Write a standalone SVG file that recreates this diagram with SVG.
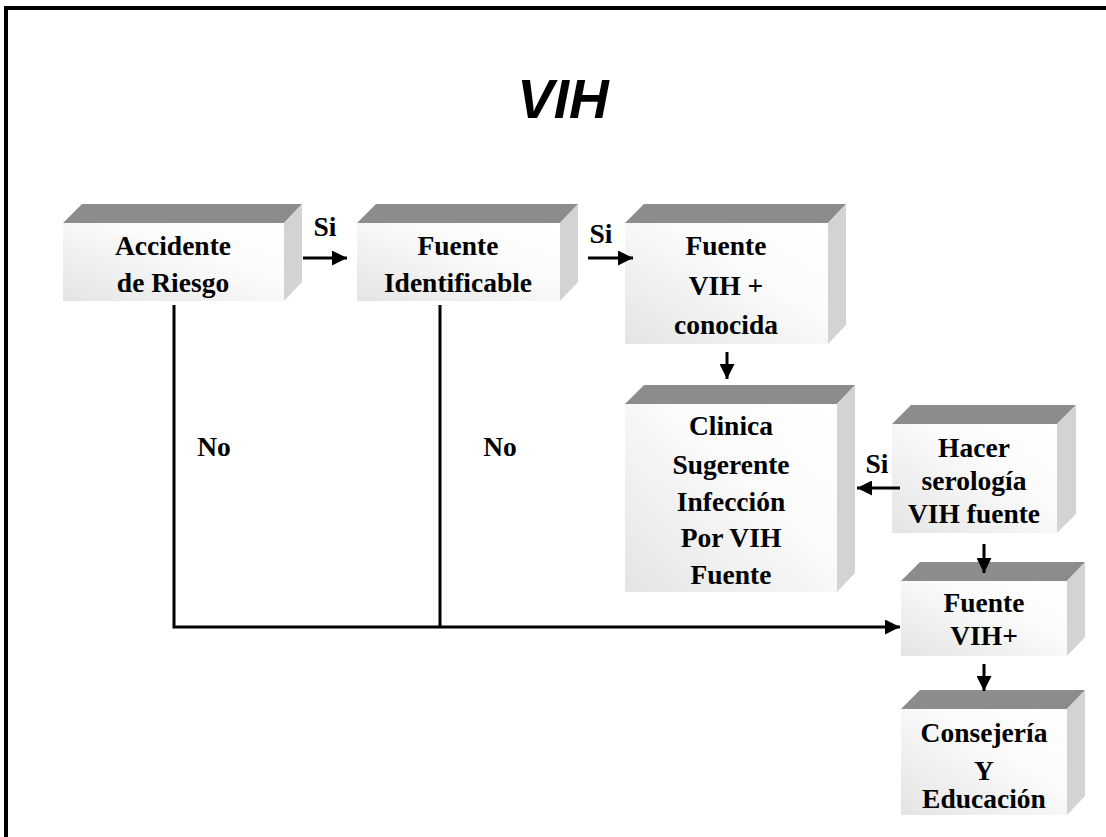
<svg xmlns="http://www.w3.org/2000/svg" width="1106" height="837" viewBox="0 0 1106 837">
  <defs>
    <linearGradient id="face" x1="0" y1="1" x2="1" y2="0">
      <stop offset="0" stop-color="#e4e4e4"/>
      <stop offset="0.6" stop-color="#fbfbfb"/>
      <stop offset="1" stop-color="#ffffff"/>
    </linearGradient>
    <marker id="arrow" viewBox="0 0 10 10" refX="10" refY="5" markerWidth="5" markerHeight="5" orient="auto" markerUnits="strokeWidth">
      <path d="M0,0 L10,5 L0,10 Z" fill="#000"/>
    </marker>
  </defs>
  <style>
    .top { fill: #8c8c8c; }
    .side { fill: #d3d3d3; }
    .front { fill: url(#face); }
    .lbl { font-family: "Liberation Serif", "Times New Roman", serif; font-weight: bold; font-size: 27.5px; fill: #000; text-anchor: middle; }
    .edge { stroke: #000; stroke-width: 3; fill: none; }
    .frame { stroke: #000; stroke-width: 4; fill: none; }
  </style>

  <rect width="1106" height="837" fill="#fff"/>

  <!-- page frame (top and left rules) -->
  <path class="frame" d="M6,837 V8 H1106"/>

  <!-- title -->
  <text x="563" y="118" font-family="Liberation Sans, Arial, sans-serif" font-weight="bold" font-style="italic" font-size="55" text-anchor="middle">VIH</text>

  <!-- Accidente de Riesgo -->
  <g id="accidente">
    <polygon class="top" points="63,223 82,204 302,204 284,223"/>
    <polygon class="side" points="284,223 302,204 302,282 284,301"/>
    <rect class="front" x="63" y="223" width="221" height="78"/>
    <text class="lbl" x="173" y="255">Accidente</text>
    <text class="lbl" x="173" y="292">de Riesgo</text>
  </g>

  <!-- Fuente Identificable -->
  <g id="identificable">
    <polygon class="top" points="357,223 376,204 578,204 560,223"/>
    <polygon class="side" points="560,223 578,204 578,282 560,301"/>
    <rect class="front" x="357" y="223" width="203" height="78"/>
    <text class="lbl" x="458" y="255">Fuente</text>
    <text class="lbl" x="458" y="292">Identificable</text>
  </g>

  <!-- Fuente VIH + conocida -->
  <g id="conocida">
    <polygon class="top" points="625,223 644,204 846,204 828,223"/>
    <polygon class="side" points="828,223 846,204 846,325 828,344"/>
    <rect class="front" x="625" y="223" width="203" height="121"/>
    <text class="lbl" x="726" y="255">Fuente</text>
    <text class="lbl" x="726" y="295">VIH +</text>
    <text class="lbl" x="726" y="334">conocida</text>
  </g>

  <!-- Clinica Sugerente -->
  <g id="clinica">
    <polygon class="top" points="625,404 644,385 855,385 837,404"/>
    <polygon class="side" points="837,404 855,385 855,573 837,592"/>
    <rect class="front" x="625" y="404" width="212" height="188"/>
    <text class="lbl" x="731" y="435">Clinica</text>
    <text class="lbl" x="731" y="474">Sugerente</text>
    <text class="lbl" x="731" y="511">Infección</text>
    <text class="lbl" x="731" y="547">Por VIH</text>
    <text class="lbl" x="731" y="584">Fuente</text>
  </g>

  <!-- Hacer serologia -->
  <g id="serologia">
    <polygon class="top" points="892,424 911,405 1076,405 1057,424"/>
    <polygon class="side" points="1057,424 1076,405 1076,514 1057,533"/>
    <rect class="front" x="892" y="424" width="165" height="109"/>
    <text class="lbl" x="974" y="457">Hacer</text>
    <text class="lbl" x="974" y="490">serología</text>
    <text class="lbl" x="974" y="523">VIH fuente</text>
  </g>

  <!-- Fuente VIH+ -->
  <g id="fuente-vih">
    <polygon class="top" points="901,581 920,562 1085,562 1067,581"/>
    <polygon class="side" points="1067,581 1085,562 1085,637 1067,656"/>
    <rect class="front" x="901" y="581" width="166" height="75"/>
    <text class="lbl" x="984" y="612">Fuente</text>
    <text class="lbl" x="984" y="645">VIH+</text>
  </g>

  <!-- Consejeria y Educacion -->
  <g id="consejeria">
    <polygon class="top" points="901,709 920,690 1085,690 1067,709"/>
    <polygon class="side" points="1067,709 1085,690 1085,796 1067,815"/>
    <rect class="front" x="901" y="709" width="166" height="106"/>
    <text class="lbl" x="984" y="742">Consejería</text>
    <text class="lbl" x="984" y="780">Y</text>
    <text class="lbl" x="984" y="808">Educación</text>
  </g>

  <!-- connectors, drawn last so arrowheads sit over the box faces -->
  <g id="connectors">
    <line class="edge" x1="303" y1="258" x2="347" y2="258" marker-end="url(#arrow)"/>
    <line class="edge" x1="588" y1="258" x2="633" y2="258" marker-end="url(#arrow)"/>
    <line class="edge" x1="727" y1="352" x2="727" y2="379" marker-end="url(#arrow)"/>
    <line class="edge" x1="900" y1="488" x2="857" y2="488" marker-end="url(#arrow)"/>
    <line class="edge" x1="984" y1="544" x2="984" y2="573" marker-end="url(#arrow)"/>
    <line class="edge" x1="984" y1="664" x2="984" y2="691" marker-end="url(#arrow)"/>
    <polyline class="edge" points="174,305 174,627 900,627" marker-end="url(#arrow)"/>
    <line class="edge" x1="440" y1="305" x2="440" y2="627"/>
    <text class="lbl" x="325" y="236" font-size="25">Si</text>
    <text class="lbl" x="601" y="243" font-size="25">Si</text>
    <text class="lbl" x="877" y="473" font-size="25">Si</text>
    <text class="lbl" x="214" y="456" font-size="25">No</text>
    <text class="lbl" x="500" y="456" font-size="25">No</text>
  </g>
</svg>
